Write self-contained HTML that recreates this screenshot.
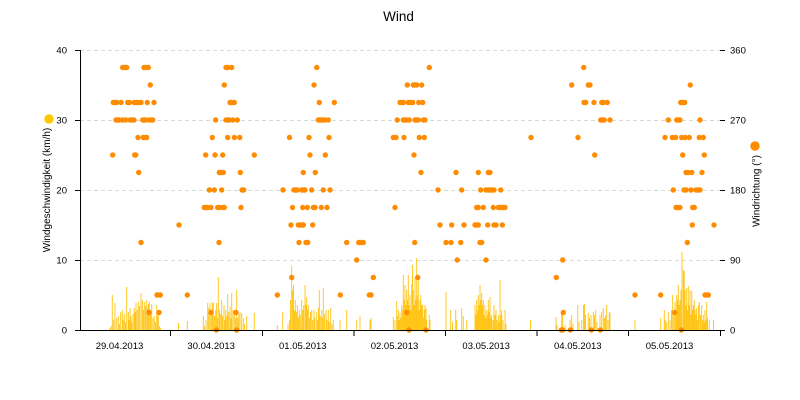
<!DOCTYPE html>
<html><head><meta charset="utf-8"><style>
html,body{margin:0;padding:0;background:#fff;}
svg{display:block;font-family:"Liberation Sans",sans-serif;}
</style></head><body>
<svg width="800" height="400" viewBox="0 0 800 400" xmlns="http://www.w3.org/2000/svg">
<rect width="800" height="400" fill="#fff"/>
<text x="398.5" y="21" font-size="13.5" text-anchor="middle" fill="#000">Wind</text>
<g stroke="#d9d9d9" stroke-width="1" stroke-dasharray="4,3">
<line x1="80" y1="50.5" x2="720" y2="50.5"/>
<line x1="80" y1="120.5" x2="720" y2="120.5"/>
<line x1="80" y1="190.5" x2="720" y2="190.5"/>
<line x1="80" y1="260.5" x2="720" y2="260.5"/>
</g>
<path fill="none" stroke="#FFC000" stroke-opacity="0.9" stroke-width="0.95" d="
M110 330v-2M111 330v-4M112.3 330v-35M113.6 330v-10M115 330v-27M116.7 330v-12M118.3 330v-14M119.5 330v-6M120.7 330v-18M122.3 330v-20M123.3 330v-10M124.3 330v-16M125.5 330v-8M126.7 330v-43M128.3 330v-18M129.2 330v-10M130 330v-22M131 330v-14M131.7 330v-8M133 330v-16M134.3 330v-22M135.2 330v-18M136 330v-27M137.2 330v-20M138.3 330v-28M139.6 330v-24M141 330v-37M142.3 330v-30M143.3 330v-20M144.3 330v-28M145.5 330v-24M146.7 330v-30M147.5 330v-22M148.3 330v-26M149.3 330v-28M150.5 330v-20M151.7 330v-26M153 330v-12M154.3 330v-14M155.5 330v-8M156.7 330v-25M157.5 330v-14M158.3 330v-18M159.5 330v-4M160.5 330v-2
M178.5 330v-7M187.3 330v-9
M203.3 330v-14M204.5 330v-4M206 330v-10M207.7 330v-27M208.8 330v-22M210 330v-27M211.2 330v-18M212.3 330v-27M213.3 330v-28M214.5 330v-14M215.7 330v-20M216.7 330v-27M217.5 330v-12M218.3 330v-53M219.5 330v-20M220.7 330v-16M221.7 330v-30M222.7 330v-14M224 330v-25M225 330v-10M225.7 330v-20M226.8 330v-14M227.7 330v-36M228.8 330v-18M230 330v-23M231 330v-12M231.7 330v-37M233 330v-20M234.3 330v-20M235.5 330v-12M236.7 330v-40M237.7 330v-12M238.8 330v-16M240 330v-18M241.7 330v-17M243.3 330v-12M244.5 330v-6M246.7 330v-14M254.3 330v-17
M277.3 330v-5M282.7 330v-18M288 330v-6M289.5 330v-10M290.5 330v-30M291.7 330v-64M292.7 330v-40M293.5 330v-45M294.5 330v-20M295.3 330v-30M296.3 330v-18M297.3 330v-25M298.3 330v-12M299.3 330v-20M300.3 330v-15M301.7 330v-30M302.7 330v-20M303.7 330v-25M305 330v-45M306 330v-25M306.7 330v-33M307.5 330v-20M308.3 330v-25M309.5 330v-12M310.5 330v-18M311.7 330v-20M312.8 330v-10M314 330v-20M315 330v-12M316.7 330v-18M317.7 330v-10M318.5 330v-22M319.3 330v-40M320.3 330v-14M321.7 330v-20M322.5 330v-12M323.3 330v-42M324.5 330v-16M326 330v-20M327 330v-10M328.3 330v-20M329.3 330v-8M330.7 330v-22M332 330v-6M333.3 330v-10M340 330v-10M346.7 330v-20M356.7 330v-10M360 330v-14M370 330v-10M371 330v-12
M393.3 330v-13M395 330v-10M396.7 330v-29M397.5 330v-14M398.3 330v-20M399.2 330v-10M400 330v-17M401 330v-12M401.7 330v-25M402.5 330v-20M403.3 330v-55M404.2 330v-30M405 330v-45M405.8 330v-25M406.7 330v-40M407.5 330v-30M408.3 330v-55M409.2 330v-25M410 330v-35M410.8 330v-20M411.7 330v-46M412.5 330v-65M413.3 330v-40M414.2 330v-25M415 330v-52M415.8 330v-30M416.7 330v-72M417.5 330v-35M418.3 330v-50M419.2 330v-20M420 330v-30M420.8 330v-35M421.7 330v-25M422.7 330v-25M423.5 330v-12M424.3 330v-20M425 330v-25M426 330v-22M426.7 330v-10M429.3 330v-15M430 330v-10
M446 330v-38M450.7 330v-20M452.5 330v-8M455.7 330v-20M456.7 330v-10M461.7 330v-22M463.3 330v-14M466.7 330v-10
M475 330v-25M476 330v-15M476.7 330v-30M477.5 330v-20M478.3 330v-35M479.2 330v-25M480 330v-45M480.8 330v-30M481.7 330v-37M482.5 330v-25M483.3 330v-30M484.2 330v-15M485 330v-25M486 330v-12M486.7 330v-20M487.5 330v-15M488.3 330v-30M489.2 330v-18M490 330v-33M491 330v-12M491.7 330v-15M493 330v-10M494 330v-25M495 330v-15M496 330v-20M497 330v-10M498.3 330v-15M499.2 330v-8M500 330v-50M500.8 330v-15M501.7 330v-20M503 330v-10M505 330v-20M506 330v-6M530.5 330v-10
M556 330v-13M557 330v-5M561.7 330v-17M562.7 330v-15M565 330v-5M570 330v-10M571.7 330v-15M573 330v-6M577.7 330v-25M579 330v-8M581.7 330v-10M583.5 330v-25M584.5 330v-26M585.5 330v-15M588.3 330v-17M589.5 330v-12M591 330v-15M593.3 330v-18M594.5 330v-15M595.7 330v-20M597 330v-8M600 330v-15M601.7 330v-18M603.3 330v-22M604.5 330v-12M605.5 330v-15M606.7 330v-25M608 330v-10M609.3 330v-18M610 330v-17
M635 330v-10M660.7 330v-12M664.3 330v-20M665.3 330v-10M666.7 330v-8M668.3 330v-18M670 330v-10M671.5 330v-20M672.7 330v-35M673.8 330v-20M675 330v-28M676 330v-15M676.7 330v-35M677.5 330v-30M678.3 330v-45M679.2 330v-25M680 330v-30M681 330v-40M682 330v-78M683.3 330v-60M684.2 330v-59M685 330v-40M686 330v-25M686.7 330v-42M687.5 330v-20M688.3 330v-44M689.2 330v-25M690 330v-40M691 330v-15M691.7 330v-39M692.5 330v-20M693.3 330v-25M694.2 330v-30M695 330v-20M696 330v-15M696.7 330v-22M697.5 330v-10M698.5 330v-25M699.3 330v-28M700.5 330v-15M701.7 330v-25M702.5 330v-10M703.3 330v-15M704.2 330v-8M705 330v-20M706 330v-10M706.7 330v-28M707.5 330v-12M709.3 330v-10M713.5 330v-10
"/>
<g fill="#FF8C00">
<circle cx="122.7" cy="67.5" r="2.7"/><circle cx="125" cy="67.5" r="2.7"/><circle cx="126.7" cy="67.5" r="2.7"/><circle cx="144" cy="67.5" r="2.7"/><circle cx="145.7" cy="67.5" r="2.7"/><circle cx="148.3" cy="67.5" r="2.7"/><circle cx="226" cy="67.5" r="2.7"/><circle cx="227.7" cy="67.5" r="2.7"/><circle cx="231.7" cy="67.5" r="2.7"/><circle cx="316.7" cy="67.5" r="2.7"/><circle cx="429.3" cy="67.5" r="2.7"/><circle cx="583.7" cy="67.5" r="2.7"/>
<circle cx="150.3" cy="85" r="2.7"/><circle cx="224.3" cy="85" r="2.7"/><circle cx="314" cy="85" r="2.7"/><circle cx="407.3" cy="85" r="2.7"/><circle cx="413.3" cy="85" r="2.7"/><circle cx="415" cy="85" r="2.7"/><circle cx="416.7" cy="85" r="2.7"/><circle cx="421.7" cy="85" r="2.7"/><circle cx="571.7" cy="85" r="2.7"/><circle cx="588.3" cy="85" r="2.7"/><circle cx="590" cy="85" r="2.7"/><circle cx="690.3" cy="85" r="2.7"/>
<circle cx="113.3" cy="102.5" r="2.7"/><circle cx="115" cy="102.5" r="2.7"/><circle cx="116.7" cy="102.5" r="2.7"/><circle cx="121" cy="102.5" r="2.7"/><circle cx="127.7" cy="102.5" r="2.7"/><circle cx="129.3" cy="102.5" r="2.7"/><circle cx="134.3" cy="102.5" r="2.7"/><circle cx="136.3" cy="102.5" r="2.7"/><circle cx="138.3" cy="102.5" r="2.7"/><circle cx="141" cy="102.5" r="2.7"/><circle cx="147.3" cy="102.5" r="2.7"/><circle cx="154" cy="102.5" r="2.7"/><circle cx="230" cy="102.5" r="2.7"/><circle cx="231.7" cy="102.5" r="2.7"/><circle cx="234.3" cy="102.5" r="2.7"/><circle cx="319.3" cy="102.5" r="2.7"/><circle cx="334.3" cy="102.5" r="2.7"/><circle cx="400" cy="102.5" r="2.7"/><circle cx="402" cy="102.5" r="2.7"/><circle cx="403.3" cy="102.5" r="2.7"/><circle cx="408.3" cy="102.5" r="2.7"/><circle cx="410.7" cy="102.5" r="2.7"/><circle cx="412.7" cy="102.5" r="2.7"/><circle cx="418.7" cy="102.5" r="2.7"/><circle cx="422.7" cy="102.5" r="2.7"/><circle cx="584" cy="102.5" r="2.7"/><circle cx="585.7" cy="102.5" r="2.7"/><circle cx="594" cy="102.5" r="2.7"/><circle cx="601.7" cy="102.5" r="2.7"/><circle cx="603.3" cy="102.5" r="2.7"/><circle cx="607.3" cy="102.5" r="2.7"/><circle cx="680.7" cy="102.5" r="2.7"/><circle cx="682.7" cy="102.5" r="2.7"/><circle cx="684.7" cy="102.5" r="2.7"/>
<circle cx="116" cy="120" r="2.7"/><circle cx="117.7" cy="120" r="2.7"/><circle cx="119.3" cy="120" r="2.7"/><circle cx="122.7" cy="120" r="2.7"/><circle cx="125.7" cy="120" r="2.7"/><circle cx="130" cy="120" r="2.7"/><circle cx="131.7" cy="120" r="2.7"/><circle cx="134" cy="120" r="2.7"/><circle cx="142.7" cy="120" r="2.7"/><circle cx="144.3" cy="120" r="2.7"/><circle cx="145.7" cy="120" r="2.7"/><circle cx="149.3" cy="120" r="2.7"/><circle cx="151" cy="120" r="2.7"/><circle cx="152.7" cy="120" r="2.7"/><circle cx="215.7" cy="120" r="2.7"/><circle cx="226" cy="120" r="2.7"/><circle cx="227.7" cy="120" r="2.7"/><circle cx="229.3" cy="120" r="2.7"/><circle cx="232.7" cy="120" r="2.7"/><circle cx="237.3" cy="120" r="2.7"/><circle cx="318.3" cy="120" r="2.7"/><circle cx="320" cy="120" r="2.7"/><circle cx="321.7" cy="120" r="2.7"/><circle cx="323.3" cy="120" r="2.7"/><circle cx="325" cy="120" r="2.7"/><circle cx="328.3" cy="120" r="2.7"/><circle cx="397.3" cy="120" r="2.7"/><circle cx="403.3" cy="120" r="2.7"/><circle cx="405" cy="120" r="2.7"/><circle cx="406.7" cy="120" r="2.7"/><circle cx="409.3" cy="120" r="2.7"/><circle cx="415" cy="120" r="2.7"/><circle cx="416.7" cy="120" r="2.7"/><circle cx="418.3" cy="120" r="2.7"/><circle cx="423.3" cy="120" r="2.7"/><circle cx="425" cy="120" r="2.7"/><circle cx="600.7" cy="120" r="2.7"/><circle cx="602.3" cy="120" r="2.7"/><circle cx="604.3" cy="120" r="2.7"/><circle cx="610" cy="120" r="2.7"/><circle cx="668.3" cy="120" r="2.7"/><circle cx="676.7" cy="120" r="2.7"/><circle cx="678.3" cy="120" r="2.7"/><circle cx="680" cy="120" r="2.7"/><circle cx="700" cy="120" r="2.7"/>
<circle cx="138" cy="137.5" r="2.7"/><circle cx="143.3" cy="137.5" r="2.7"/><circle cx="145" cy="137.5" r="2.7"/><circle cx="146.7" cy="137.5" r="2.7"/><circle cx="212.3" cy="137.5" r="2.7"/><circle cx="227.7" cy="137.5" r="2.7"/><circle cx="234.3" cy="137.5" r="2.7"/><circle cx="239.7" cy="137.5" r="2.7"/><circle cx="289.5" cy="137.5" r="2.7"/><circle cx="309" cy="137.5" r="2.7"/><circle cx="329" cy="137.5" r="2.7"/><circle cx="393.3" cy="137.5" r="2.7"/><circle cx="396" cy="137.5" r="2.7"/><circle cx="404" cy="137.5" r="2.7"/><circle cx="419.3" cy="137.5" r="2.7"/><circle cx="424.3" cy="137.5" r="2.7"/><circle cx="531" cy="137.5" r="2.7"/><circle cx="578" cy="137.5" r="2.7"/><circle cx="665" cy="137.5" r="2.7"/><circle cx="672.3" cy="137.5" r="2.7"/><circle cx="675.7" cy="137.5" r="2.7"/><circle cx="681.7" cy="137.5" r="2.7"/><circle cx="685" cy="137.5" r="2.7"/><circle cx="689.3" cy="137.5" r="2.7"/><circle cx="699.3" cy="137.5" r="2.7"/><circle cx="703.3" cy="137.5" r="2.7"/>
<circle cx="112.7" cy="155" r="2.7"/><circle cx="134.7" cy="155" r="2.7"/><circle cx="135.7" cy="155" r="2.7"/><circle cx="205.7" cy="155" r="2.7"/><circle cx="215" cy="155" r="2.7"/><circle cx="222.7" cy="155" r="2.7"/><circle cx="254.3" cy="155" r="2.7"/><circle cx="310" cy="155" r="2.7"/><circle cx="325.3" cy="155" r="2.7"/><circle cx="414" cy="155" r="2.7"/><circle cx="594.7" cy="155" r="2.7"/><circle cx="682.7" cy="155" r="2.7"/><circle cx="704.3" cy="155" r="2.7"/>
<circle cx="138.7" cy="172.5" r="2.7"/><circle cx="219.3" cy="172.5" r="2.7"/><circle cx="221" cy="172.5" r="2.7"/><circle cx="223.3" cy="172.5" r="2.7"/><circle cx="240.3" cy="172.5" r="2.7"/><circle cx="303.3" cy="172.5" r="2.7"/><circle cx="315.3" cy="172.5" r="2.7"/><circle cx="421" cy="172.5" r="2.7"/><circle cx="456" cy="172.5" r="2.7"/><circle cx="478.3" cy="172.5" r="2.7"/><circle cx="488.3" cy="172.5" r="2.7"/><circle cx="490" cy="172.5" r="2.7"/><circle cx="686" cy="172.5" r="2.7"/><circle cx="688.3" cy="172.5" r="2.7"/><circle cx="691.7" cy="172.5" r="2.7"/><circle cx="702" cy="172.5" r="2.7"/>
<circle cx="209.3" cy="190" r="2.7"/><circle cx="214.3" cy="190" r="2.7"/><circle cx="221.7" cy="190" r="2.7"/><circle cx="242" cy="190" r="2.7"/><circle cx="243.7" cy="190" r="2.7"/><circle cx="283" cy="190" r="2.7"/><circle cx="294" cy="190" r="2.7"/><circle cx="295.7" cy="190" r="2.7"/><circle cx="297.3" cy="190" r="2.7"/><circle cx="301.7" cy="190" r="2.7"/><circle cx="303.3" cy="190" r="2.7"/><circle cx="305" cy="190" r="2.7"/><circle cx="311.7" cy="190" r="2.7"/><circle cx="323.3" cy="190" r="2.7"/><circle cx="330" cy="190" r="2.7"/><circle cx="438" cy="190" r="2.7"/><circle cx="461.7" cy="190" r="2.7"/><circle cx="480.7" cy="190" r="2.7"/><circle cx="486" cy="190" r="2.7"/><circle cx="488.3" cy="190" r="2.7"/><circle cx="490" cy="190" r="2.7"/><circle cx="491.7" cy="190" r="2.7"/><circle cx="494" cy="190" r="2.7"/><circle cx="500.7" cy="190" r="2.7"/><circle cx="673.3" cy="190" r="2.7"/><circle cx="684" cy="190" r="2.7"/><circle cx="686" cy="190" r="2.7"/><circle cx="691" cy="190" r="2.7"/><circle cx="696" cy="190" r="2.7"/><circle cx="698" cy="190" r="2.7"/><circle cx="700" cy="190" r="2.7"/>
<circle cx="204.3" cy="207.5" r="2.7"/><circle cx="206" cy="207.5" r="2.7"/><circle cx="207.7" cy="207.5" r="2.7"/><circle cx="211" cy="207.5" r="2.7"/><circle cx="217.7" cy="207.5" r="2.7"/><circle cx="219.3" cy="207.5" r="2.7"/><circle cx="222.7" cy="207.5" r="2.7"/><circle cx="224.3" cy="207.5" r="2.7"/><circle cx="241" cy="207.5" r="2.7"/><circle cx="292.5" cy="207.5" r="2.7"/><circle cx="302.7" cy="207.5" r="2.7"/><circle cx="307.3" cy="207.5" r="2.7"/><circle cx="313.3" cy="207.5" r="2.7"/><circle cx="315" cy="207.5" r="2.7"/><circle cx="321.3" cy="207.5" r="2.7"/><circle cx="327" cy="207.5" r="2.7"/><circle cx="395" cy="207.5" r="2.7"/><circle cx="476.7" cy="207.5" r="2.7"/><circle cx="478.3" cy="207.5" r="2.7"/><circle cx="483.3" cy="207.5" r="2.7"/><circle cx="493.3" cy="207.5" r="2.7"/><circle cx="498.3" cy="207.5" r="2.7"/><circle cx="500" cy="207.5" r="2.7"/><circle cx="501.7" cy="207.5" r="2.7"/><circle cx="503.3" cy="207.5" r="2.7"/><circle cx="505" cy="207.5" r="2.7"/><circle cx="676" cy="207.5" r="2.7"/><circle cx="677.7" cy="207.5" r="2.7"/><circle cx="680" cy="207.5" r="2.7"/><circle cx="692.7" cy="207.5" r="2.7"/><circle cx="694.3" cy="207.5" r="2.7"/>
<circle cx="179" cy="225" r="2.7"/><circle cx="291" cy="225" r="2.7"/><circle cx="298.3" cy="225" r="2.7"/><circle cx="300" cy="225" r="2.7"/><circle cx="301.7" cy="225" r="2.7"/><circle cx="303.3" cy="225" r="2.7"/><circle cx="312.7" cy="225" r="2.7"/><circle cx="440" cy="225" r="2.7"/><circle cx="451.7" cy="225" r="2.7"/><circle cx="464" cy="225" r="2.7"/><circle cx="475" cy="225" r="2.7"/><circle cx="476.7" cy="225" r="2.7"/><circle cx="478.3" cy="225" r="2.7"/><circle cx="487.7" cy="225" r="2.7"/><circle cx="494" cy="225" r="2.7"/><circle cx="496" cy="225" r="2.7"/><circle cx="502.3" cy="225" r="2.7"/><circle cx="692.3" cy="225" r="2.7"/><circle cx="714" cy="225" r="2.7"/>
<circle cx="141" cy="242.5" r="2.7"/><circle cx="219" cy="242.5" r="2.7"/><circle cx="299" cy="242.5" r="2.7"/><circle cx="306" cy="242.5" r="2.7"/><circle cx="307.7" cy="242.5" r="2.7"/><circle cx="346.7" cy="242.5" r="2.7"/><circle cx="358.7" cy="242.5" r="2.7"/><circle cx="360.7" cy="242.5" r="2.7"/><circle cx="363.3" cy="242.5" r="2.7"/><circle cx="414.7" cy="242.5" r="2.7"/><circle cx="446" cy="242.5" r="2.7"/><circle cx="451" cy="242.5" r="2.7"/><circle cx="460.7" cy="242.5" r="2.7"/><circle cx="480" cy="242.5" r="2.7"/><circle cx="481.7" cy="242.5" r="2.7"/><circle cx="687.3" cy="242.5" r="2.7"/>
<circle cx="356.7" cy="260" r="2.7"/><circle cx="457.3" cy="260" r="2.7"/><circle cx="486" cy="260" r="2.7"/><circle cx="562.7" cy="260" r="2.7"/>
<circle cx="291.7" cy="277.5" r="2.7"/><circle cx="373.3" cy="277.5" r="2.7"/><circle cx="417.7" cy="277.5" r="2.7"/><circle cx="556.3" cy="277.5" r="2.7"/>
<circle cx="157" cy="295" r="2.7"/><circle cx="158.3" cy="295" r="2.7"/><circle cx="160.3" cy="295" r="2.7"/><circle cx="187.3" cy="295" r="2.7"/><circle cx="277.3" cy="295" r="2.7"/><circle cx="340.3" cy="295" r="2.7"/><circle cx="369.3" cy="295" r="2.7"/><circle cx="371" cy="295" r="2.7"/><circle cx="635" cy="295" r="2.7"/><circle cx="660.7" cy="295" r="2.7"/><circle cx="705" cy="295" r="2.7"/><circle cx="706.7" cy="295" r="2.7"/><circle cx="708.3" cy="295" r="2.7"/>
<circle cx="149" cy="312.5" r="2.7"/><circle cx="159" cy="312.5" r="2.7"/><circle cx="211" cy="312.5" r="2.7"/><circle cx="236" cy="312.5" r="2.7"/><circle cx="406.7" cy="312.5" r="2.7"/><circle cx="563.3" cy="312.5" r="2.7"/><circle cx="674.7" cy="312.5" r="2.7"/>
<circle cx="216.3" cy="330" r="2.7"/><circle cx="236.7" cy="330" r="2.7"/><circle cx="409" cy="330" r="2.7"/><circle cx="426" cy="330" r="2.7"/><circle cx="561.3" cy="330" r="2.7"/><circle cx="562.7" cy="330" r="2.7"/><circle cx="570.3" cy="330" r="2.7"/><circle cx="591.3" cy="330" r="2.7"/><circle cx="600.3" cy="330" r="2.7"/><circle cx="681.3" cy="330" r="2.7"/>
</g>
<g stroke="#000" stroke-width="1" fill="none">
<line x1="80.5" y1="50" x2="80.5" y2="330.5"/>
<line x1="80" y1="330.5" x2="725" y2="330.5"/>
<path d="M75 50.5h5M75 120.5h5M75 190.5h5M75 260.5h5M75 330.5h5"/>
<path d="M720 50.5h5M720 120.5h5M720 190.5h5M720 260.5h5"/>
<path d="M170.5 330v6M262.5 330v6M354 330v6M445.5 330v6M537 330v6M628.5 330v6M720.5 330v6"/>
</g>
<g font-size="9.5" fill="#000">
<g text-anchor="end">
<text x="67" y="53.5">40</text>
<text x="67" y="123.5">30</text>
<text x="67" y="193.5">20</text>
<text x="67" y="263.5">10</text>
<text x="67" y="333.5">0</text>
</g>
<g text-anchor="start">
<text x="730" y="53.5">360</text>
<text x="730" y="123.5">270</text>
<text x="730" y="193.5">180</text>
<text x="730" y="263.5">90</text>
<text x="730" y="333.5">0</text>
</g>
<g text-anchor="middle">
<text x="119.5" y="349">29.04.2013</text>
<text x="211.2" y="349">30.04.2013</text>
<text x="302.8" y="349">01.05.2013</text>
<text x="394.5" y="349">02.05.2013</text>
<text x="486.2" y="349">03.05.2013</text>
<text x="577.8" y="349">04.05.2013</text>
<text x="669.5" y="349">05.05.2013</text>
</g>
</g>
<circle cx="49" cy="119" r="4.7" fill="#FFC800"/>
<text transform="translate(50,190) rotate(-90)" font-size="10" text-anchor="middle" fill="#000">Windgeschwindigkeit (km/h)</text>
<circle cx="755" cy="146" r="4.7" fill="#FF8C00"/>
<text transform="translate(759.5,191) rotate(-90)" font-size="10" text-anchor="middle" fill="#000">Windrichtung (°)</text>
</svg>
</body></html>
